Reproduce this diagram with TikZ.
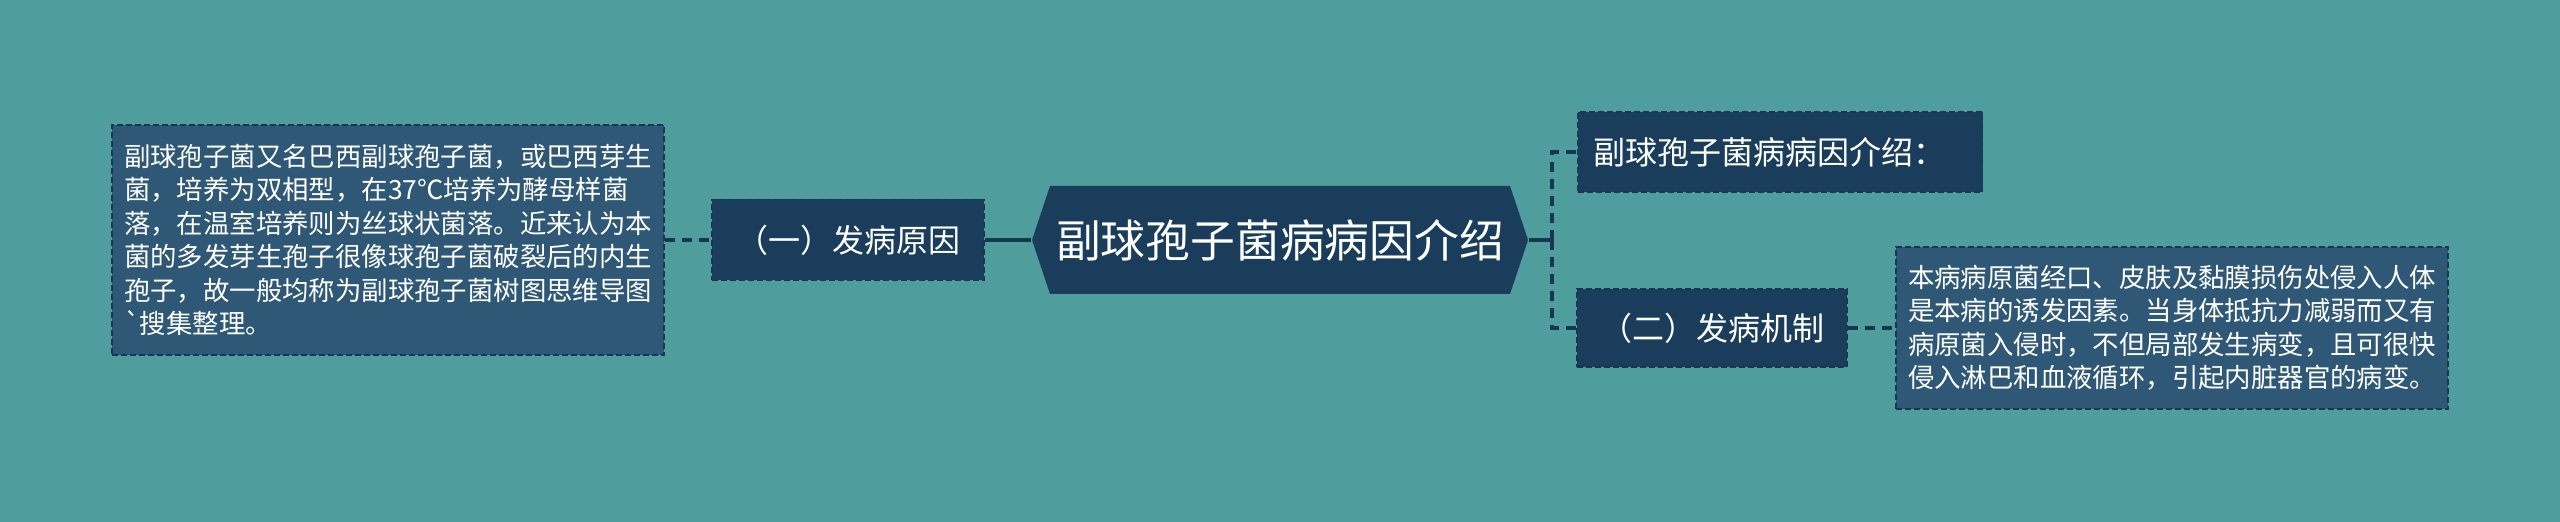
\documentclass[tikz,border=0pt]{standalone}
\usepackage{fontspec}
\newfontfamily\cjk{Noto Sans CJK SC}
\definecolor{bgteal}{RGB}{79,157,156}
\definecolor{nodenavy}{RGB}{26,61,92}
\definecolor{noteblue}{RGB}{46,88,118}
\definecolor{linenavy}{RGB}{22,54,82}
\tikzset{every picture/.style={line width=0.75pt}}
\tikzset{
  topic/.style={fill=nodenavy, draw=linenavy, dash pattern={on 3pt off 1.5pt}, text=white,
    font=\cjk\fontsize{16pt}{19pt}\selectfont, minimum height=40pt, inner sep=0pt},
  note/.style={fill=noteblue, draw=linenavy, dash pattern={on 3pt off 1.5pt}, text=white,
    font=\cjk\fontsize{13.2pt}{16.75pt}\selectfont, text width=264pt, align=left,
    inner xsep=6pt, inner ysep=0pt},
  link/.style={draw=linenavy, line width=1.6pt},
  dashlink/.style={link, dash pattern={on 5pt off 3.5pt}},
}

\begin{document}
\begin{tikzpicture}[x=0.5pt,y=0.5pt,yscale=-1,xscale=1]
\useasboundingbox (0,0) rectangle (2560,522);
\fill[bgteal] (0,0) rectangle (2560,522);

%Shape: Hexagon [id:root]
\coordinate (rootc) at (1280,240);
\fill[nodenavy] (rootc) ++(-248,0) -- ++(18,-54) -- ++(460,0) -- ++(18,54) -- ++(-18,54) -- ++(-460,0) -- cycle ;

% Text Node
\node[text=white, font=\cjk\fontsize{22.4pt}{26pt}\selectfont, minimum width=248pt, minimum height=54pt, inner sep=0pt] (root) at (rootc) {副球孢子菌病病因介绍};
% Text Node
\node[topic, minimum width=136pt, minimum height=40.5pt] (cause) at (848,240) {（一）发病原因};
% Text Node
\node[note, minimum height=115pt] (causeNote) at (388,240) {副球孢子菌又名巴西副球孢子菌，或巴西芽生\\
菌，培养为双相型，在37℃培养为酵母样菌\\
落，在温室培养则为丝球状菌落。近来认为本\\
菌的多发芽生孢子很像球孢子菌破裂后的内生\\
孢子，故一般均称为副球孢子菌树图思维导图\\
`搜集整理。};
% Text Node
\node[topic, text width=186.5pt, align=left, inner xsep=8pt] (intro) at (1780,152) {副球孢子菌病病因介绍：};
% Text Node
\node[topic, minimum width=135pt, minimum height=39pt] (mech) at (1712,328) {（二）发病机制};
% Text Node
\node[note, minimum height=81pt] (mechNote) at (2172,328) {本病病原菌经口、皮肤及黏膜损伤处侵入人体\\
是本病的诱发因素。当身体抵抗力减弱而又有\\
病原菌入侵时，不但局部发生病变，且可很快\\
侵入淋巴和血液循环，引起内脏器官的病变。};

% Connection
\draw[dashlink] (causeNote.east) -- (cause.west) ;
% Connection
\draw[link] (cause.east) -- (root.west) ;
% Connection
\coordinate (fork) at (1552,240);
\draw[link] (root.east) -- (fork) ;
\draw[dashlink] (fork) |- (intro.west) ;
\draw[dashlink] (fork) |- (mech.west) ;
% Connection
\draw[dashlink] (mech.east) -- (mechNote.west) ;

\end{tikzpicture}
\end{document}
